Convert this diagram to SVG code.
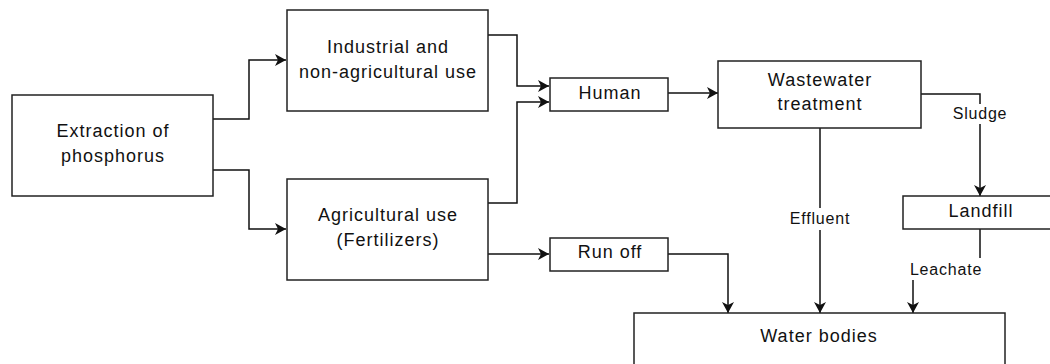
<svg xmlns="http://www.w3.org/2000/svg" width="1050" height="364" viewBox="0 0 1050 364">
<style>
.box{fill:#fff;stroke:#222;stroke-width:1.5}
.t{font-family:"Liberation Sans",Arial,sans-serif;font-size:18px;letter-spacing:1px;fill:#111;text-anchor:middle}
.l{font-family:"Liberation Sans",Arial,sans-serif;font-size:16px;letter-spacing:0.8px;fill:#111;text-anchor:middle}
.c{fill:none;stroke:#111;stroke-width:1.5}
.lb{fill:#fff;stroke:none}
</style>
<defs>
<marker id="arr" markerWidth="14" markerHeight="14" refX="11" refY="7" orient="auto" markerUnits="userSpaceOnUse">
<path d="M0,1 L11,7 L0,13 L3,7 Z" fill="#111"/>
</marker>
</defs>
<rect width="1050" height="364" fill="#fff"/>
<g id="connectors">
<path class="c" d="M213,119 H249 V60 H286" marker-end="url(#arr)"/>
<path class="c" d="M213,170 H249 V229 H286" marker-end="url(#arr)"/>
<path class="c" d="M488,35 H517 V86 H549" marker-end="url(#arr)"/>
<path class="c" d="M488,203 H517 V102 H549" marker-end="url(#arr)"/>
<path class="c" d="M488,254 H549" marker-end="url(#arr)"/>
<path class="c" d="M668,93 H718" marker-end="url(#arr)"/>
<path class="c" d="M668,254 H728 V313" marker-end="url(#arr)"/>
<path class="c" d="M820,128 V313" marker-end="url(#arr)"/>
<path class="c" d="M921,94 H980 V196" marker-end="url(#arr)"/>
<path class="c" d="M980,229 V268 H913 V313" marker-end="url(#arr)"/>
<rect class="lb" x="950" y="104" width="58" height="20"/>
<text class="l" x="980" y="119">Sludge</text>
<rect class="lb" x="788" y="208" width="64" height="22"/>
<text class="l" x="820" y="224">Effluent</text>
<rect class="lb" x="905" y="258" width="82" height="22"/>
<text class="l" x="946" y="275">Leachate</text>
</g>
<g id="extraction">
<rect class="box" x="12" y="95" width="201" height="101"/>
<text class="t" x="113" y="137">Extraction of</text>
<text class="t" x="113" y="162">phosphorus</text>
</g>
<g id="industrial">
<rect class="box" x="287" y="10" width="201" height="101"/>
<text class="t" x="388" y="53">Industrial and</text>
<text class="t" x="388" y="78">non-agricultural use</text>
</g>
<g id="agricultural">
<rect class="box" x="287" y="179" width="201" height="101"/>
<text class="t" x="388" y="221">Agricultural use</text>
<text class="t" x="388" y="246">(Fertilizers)</text>
</g>
<g id="human">
<rect class="box" x="550" y="78" width="118" height="33"/>
<text class="t" x="610" y="99">Human</text>
</g>
<g id="wastewater">
<rect class="box" x="718" y="61" width="203" height="67"/>
<text class="t" x="820" y="86">Wastewater</text>
<text class="t" x="820" y="110">treatment</text>
</g>
<g id="runoff">
<rect class="box" x="550" y="238" width="118" height="33"/>
<text class="t" x="610" y="258">Run off</text>
</g>
<g id="landfill">
<rect class="box" x="903" y="196" width="160" height="33"/>
<text class="t" x="981" y="217">Landfill</text>
</g>
<g id="waterbodies">
<rect class="box" x="634" y="313" width="371" height="60"/>
<text class="t" x="819" y="342">Water bodies</text>
</g>
</svg>
